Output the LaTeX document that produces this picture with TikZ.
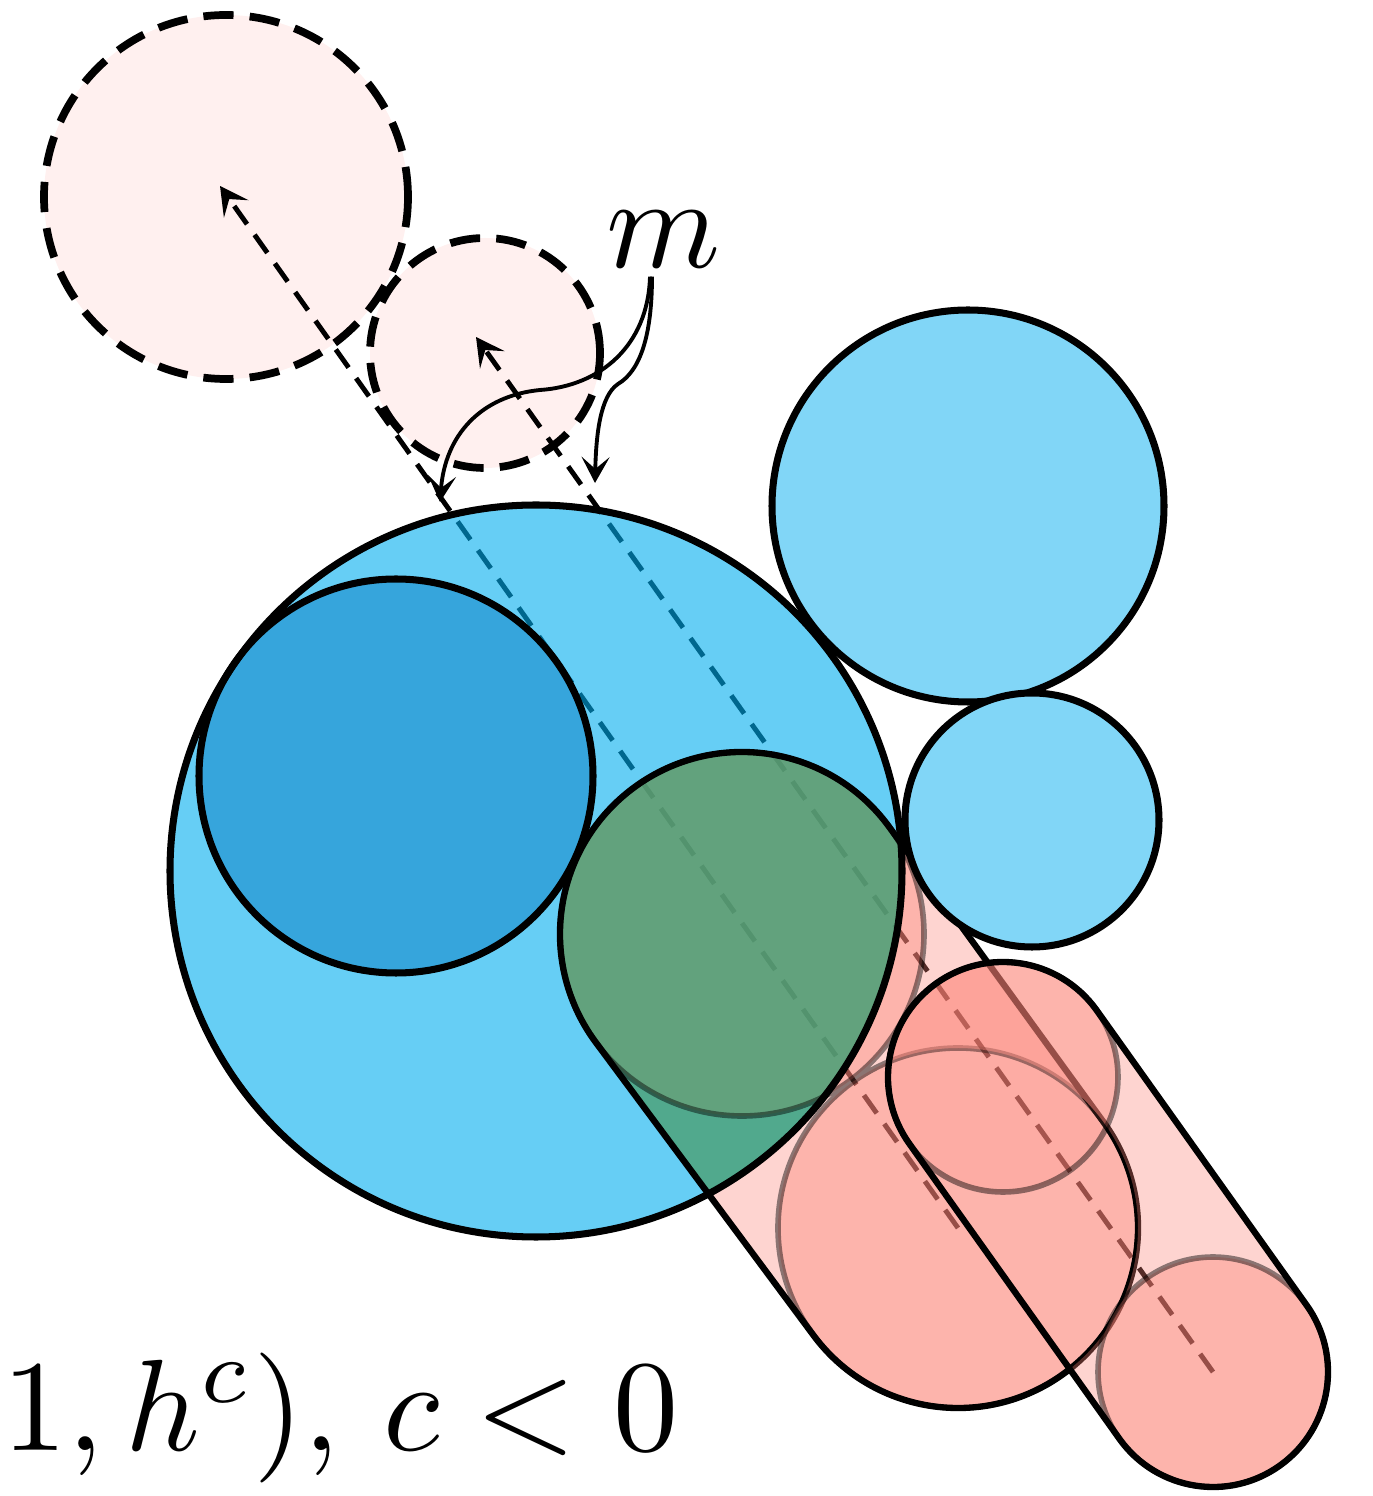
\RequirePackage{fix-cm}
\documentclass[tikz,border=0pt]{standalone}
\usepackage{amsmath,amssymb}
\usepackage{tikz}
\usetikzlibrary{arrows.meta,calc}
\usepackage{xcolor}

\definecolor{ghostpink}{RGB}{255,240,239}
\definecolor{ballblue}{RGB}{0,173,238}
\definecolor{deepblue}{RGB}{54,165,220}
\definecolor{paleblue}{RGB}{129,214,247}
\definecolor{salmonfill}{RGB}{252,130,118}
\definecolor{tealfill}{RGB}{73,155,98}
\definecolor{greenfill}{RGB}{116,156,110}

% swept regions of the two moved balls
\newcommand\hullA{($(a1)+(36:182)$) -- ($(a2)+(36:180)$) arc[start angle=36,end angle=-144,radius=180]
  -- ($(a1)+(-144:182)$) arc[start angle=216,end angle=36,radius=182] -- cycle}
\newcommand\hullB{($(b1)+(36:115)$) -- ($(b2)+(36:115)$) arc[start angle=36,end angle=-144,radius=115]
  -- ($(b1)+(-144:115)$) arc[start angle=216,end angle=36,radius=115] -- cycle}
\newcommand\frameout{(0,0) -- (0,1496) -- (1373,1496) -- (1373,0) -- cycle}

\begin{document}
\begin{tikzpicture}[
    x=.1mm,y=.1mm,
    ghost/.style={fill=ghostpink,draw=black,line width=2.2pt,dash pattern=on 8.6pt off 4.6pt},
    ball/.style={draw=black,line width=2pt},
    trail/.style={black,line width=1.4pt,dash pattern=on 6.3pt off 3.7pt,-{Stealth[length=2.8mm,width=3mm,inset=1.2mm]}},
    note/.style={black,line width=1.1pt,-{Stealth[length=2.6mm,width=2.8mm,inset=1.2mm]}},
    hull/.style={fill=salmonfill,fill opacity=.34},
    disc/.style={fill=salmonfill,fill opacity=.4},
    rim/.style={draw=black,draw opacity=.45,line width=1.6pt},
    outline/.style={draw=black,line width=1.8pt},
    big text/.style={inner sep=0pt,font=\fontsize{10}{12}\selectfont,scale=3.7,transform shape}
  ]
    \useasboundingbox (0,0) rectangle (1373,1496);
    \coordinate (d1) at (226,1299);
    \coordinate (d2) at (485,1143);
    \coordinate (t1) at (220,1310);
    \coordinate (t2) at (476,1159);
    \coordinate (big) at (536,625);
    \coordinate (dark) at (396,720);
    \coordinate (up) at (968,990);
    \coordinate (low) at (1032,676);
    \coordinate (a1) at (742,562);
    \coordinate (a2) at (958,268);
    \coordinate (b1) at (1003,419);
    \coordinate (b2) at (1213,124);
    \coordinate (n1) at (440,994);
    \coordinate (n2) at (595,1013);

    % start positions
    \draw[ghost] (d1) circle[radius=182];
    \draw[ghost] (d2) circle[radius=115];
    \draw[trail] (a2) -- (t1);
    \draw[trail] (b2) -- (t2);

    \node[big text] (m) at (664,1256) {$m$};
    \draw[note] ([shift={(-14,-6)}]m.south) .. controls (648,1150) and (600,1110) .. (540,1106)
      .. controls (480,1100) and (445,1060) .. (n1);
    \draw[note] ([shift={(-12,-6)}]m.south) .. controls (652,1160) and (640,1125) .. (618,1112)
      .. controls (600,1100) and (596,1060) .. (n2);

    % blue balls
    \fill[ballblue,opacity=.6] (big) circle[radius=366];
    \draw[ball,fill=deepblue] (dark) circle[radius=197];

    \begin{scope}
      \clip (big) circle[radius=366];
      \fill[tealfill,opacity=.7] \hullA;
      \fill[greenfill,opacity=.5] (a1) circle[radius=182];
    \end{scope}
    \begin{scope}
      \clip \frameout (big) circle[radius=366];
      \fill[hull] \hullA;
      \fill[disc] (a1) circle[radius=182];
    \end{scope}
    \fill[disc] (a2) circle[radius=180];
    \draw[rim] (a1) circle[radius=182] (a2) circle[radius=180];
    \draw[outline] \hullA;
    \draw[ball] (big) circle[radius=366];

    \draw[ball,fill=paleblue] (up) circle[radius=196];
    \draw[ball,fill=paleblue] (low) circle[radius=127];

    % second sweep, not stacked on the first one
    \begin{scope}
      \clip \frameout (a2) circle[radius=180];
      \fill[hull] \hullB;
      \fill[disc] (b1) circle[radius=115];
    \end{scope}
    \begin{scope}
      \clip (a2) circle[radius=180];
      \fill[disc,fill opacity=.15] (b1) circle[radius=115];
    \end{scope}
    \fill[disc] (b2) circle[radius=115];
    \draw[rim] (b1) circle[radius=115] (b2) circle[radius=115];
    \draw[outline] \hullB;

    \node[big text,anchor=base west] (cond) at (0,46) {$1,h^c),\,c<0$};
  \end{tikzpicture}
\end{document}
